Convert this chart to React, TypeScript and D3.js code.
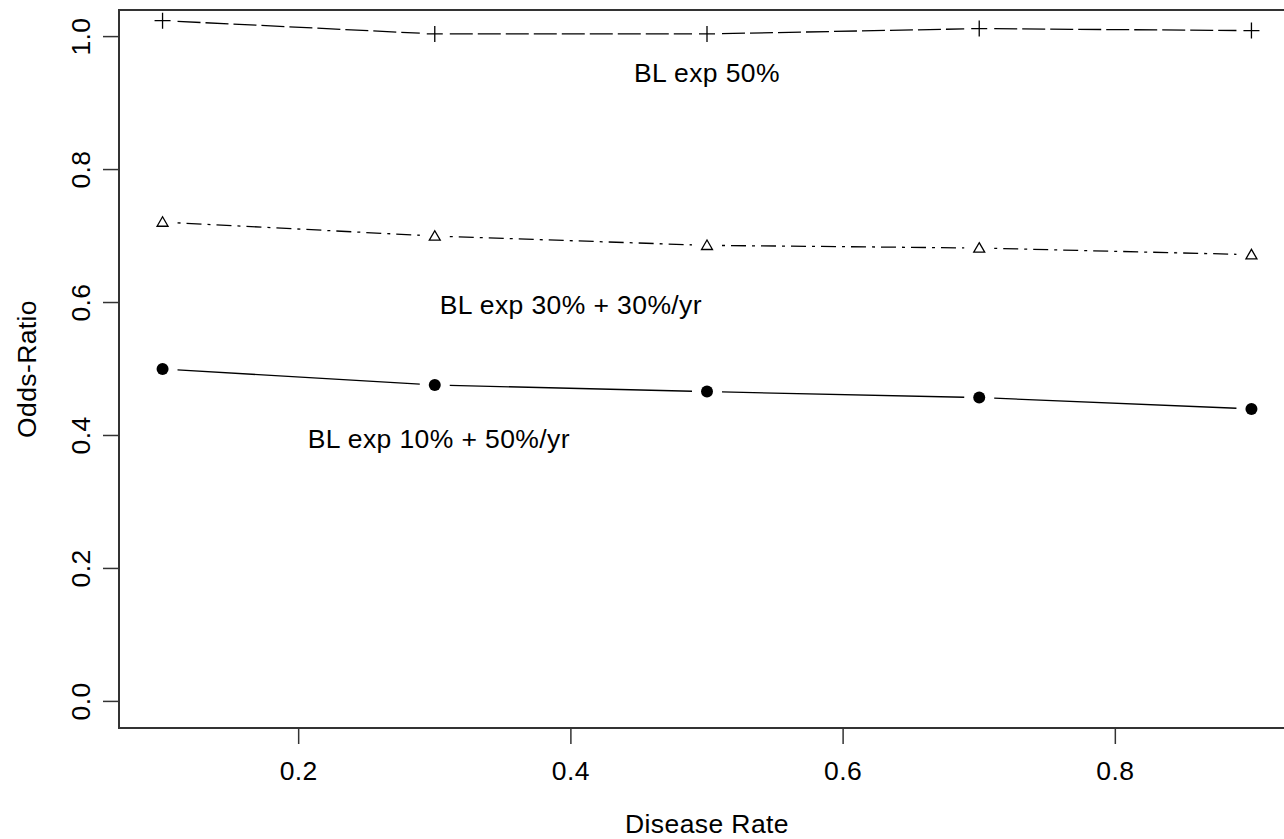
import React from "react";
import * as d3 from "d3";

const diseaseRate = [0.1, 0.3, 0.5, 0.7, 0.9];
const orBL50 = [1.024, 1.004, 1.004, 1.012, 1.009];
const orBL30 = [0.721, 0.7, 0.686, 0.682, 0.672];
const orBL10 = [0.5, 0.476, 0.466, 0.457, 0.44];

const xTicks = [0.2, 0.4, 0.6, 0.8];
const yTicks = [0.0, 0.2, 0.4, 0.6, 0.8, 1.0];

const labelTexts = ["BL exp 50%", "BL exp 30% + 30%/yr", "BL exp 10% + 50%/yr"];
const labelX = [0.5, 0.4, 0.303];
const labelY = [0.945, 0.597, 0.395];

const W = 1284;
const H = 839;
const FONT = "'Liberation Sans', Arial, sans-serif";
const FS = 26.5;
const LS = 0.4;

export default function App() {
  const x = d3.scaleLinear().domain([0.068, 0.932]).range([119, 1295]);
  const y = d3.scaleLinear().domain([-0.04, 1.04]).range([728, 10]);

  const gap = 15;
  const segs = (vals: number[]) => {
    const out: { x1: number; y1: number; x2: number; y2: number }[] = [];
    for (let i = 0; i < vals.length - 1; i++) {
      const ax = x(diseaseRate[i]), ay = y(vals[i]);
      const bx = x(diseaseRate[i + 1]), by = y(vals[i + 1]);
      const dx = bx - ax, dy = by - ay;
      const len = Math.hypot(dx, dy);
      const ux = dx / len, uy = dy / len;
      out.push({ x1: ax + ux * gap, y1: ay + uy * gap, x2: bx - ux * gap, y2: by - uy * gap });
    }
    return out;
  };

  const series = [
    { vals: orBL50, dash: "23 5", marker: "plus" },
    { vals: orBL30, dash: "3 6 15 6", marker: "tri" },
    { vals: orBL10, dash: "", marker: "dot" },
  ];

  const tri = d3.symbol().type(d3.symbolTriangle).size(52)();

  return (
    <svg width={W} height={H} style={{ display: "block", position: "absolute", left: 0, top: 0 }} fontFamily={FONT}>
      <rect x={0} y={0} width={W} height={H} fill="#fff" />
      {series.map((s, si) => (
        <g key={si}>
          {segs(s.vals).map((g, i) => (
            <line key={i} x1={g.x1} y1={g.y1} x2={g.x2} y2={g.y2} stroke="#000" strokeWidth={1.3}
              strokeDasharray={s.dash || undefined} />
          ))}
          {s.vals.map((v, i) => {
            const cx = x(diseaseRate[i]), cy = y(v);
            if (s.marker === "plus")
              return (
                <path key={i} d={`M${cx - 8},${cy}H${cx + 8}M${cx},${cy - 8}V${cy + 8}`} stroke="#000" strokeWidth={1.3} fill="none" />
              );
            if (s.marker === "tri")
              return <path key={i} d={tri || ""} transform={`translate(${cx},${cy + 1})`} fill="none" stroke="#000" strokeWidth={1.3} />;
            return <circle key={i} cx={cx} cy={cy} r={6} fill="#000" />;
          })}
        </g>
      ))}
      {labelTexts.map((t, i) => (
        <text key={i} x={x(labelX[i])} y={y(labelY[i])} textAnchor="middle" dominantBaseline="central" fontSize={FS} letterSpacing={LS} fill="#000">
          {t}
        </text>
      ))}
      <rect x={119} y={10} width={1295 - 119} height={718} fill="none" stroke="#333" strokeWidth={2} />
      {xTicks.map((t) => (
        <g key={t}>
          <line x1={x(t)} x2={x(t)} y1={728} y2={744} stroke="#333" strokeWidth={1.5} />
          <text x={x(t)} y={780} textAnchor="middle" fontSize={FS} letterSpacing={LS} fill="#000">{t.toFixed(1)}</text>
        </g>
      ))}
      {yTicks.map((t) => (
        <g key={t}>
          <line x1={103} x2={119} y1={y(t)} y2={y(t)} stroke="#333" strokeWidth={1.5} />
          <text transform={`translate(90,${y(t)}) rotate(-90)`} textAnchor="middle" fontSize={FS} letterSpacing={LS} fill="#000">{t.toFixed(1)}</text>
        </g>
      ))}
      <text x={(119 + 1295) / 2} y={833} textAnchor="middle" fontSize={FS} letterSpacing={LS} fill="#000">Disease Rate</text>
      <text transform={`translate(36,369) rotate(-90)`} textAnchor="middle" fontSize={FS} letterSpacing={LS} fill="#000">Odds-Ratio</text>
    </svg>
  );
}
